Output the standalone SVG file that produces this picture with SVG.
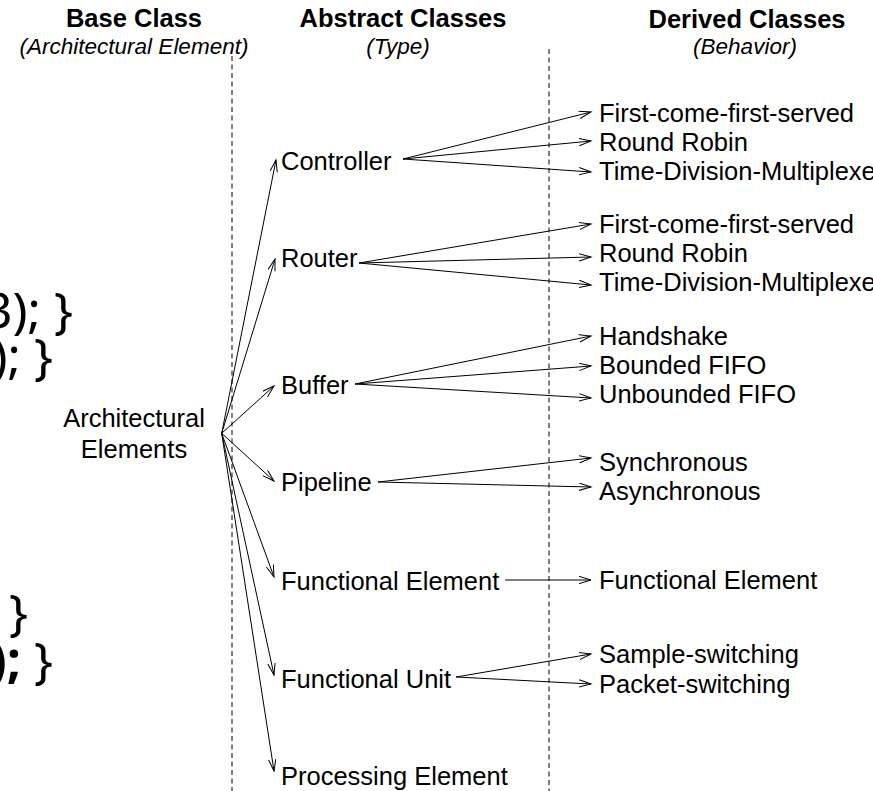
<svg xmlns="http://www.w3.org/2000/svg" width="873" height="791" viewBox="0 0 873 791">
  <style>
    text { font-family: "Liberation Sans", Arial, sans-serif; fill: #000; }
    .hdr { font-size: 25.5px; font-weight: bold; text-anchor: middle; }
    .sub { font-size: 22.5px; font-style: italic; text-anchor: middle; }
    .lbl { font-size: 25.5px; }
    .mid { text-anchor: middle; }
    .code { font-family: "Noto Sans", "Liberation Sans", sans-serif; font-size: 50px; text-anchor: end; }
    .sep { stroke: #000; stroke-width: 1; stroke-dasharray: 5 3.5; fill: none; }
    .edge { stroke: #000; stroke-width: 1; fill: none; marker-end: url(#arrow); }
  </style>
  <defs>
    <marker id="arrow" markerUnits="userSpaceOnUse" markerWidth="14" markerHeight="10" refX="12" refY="4" orient="auto">
      <path d="M0,0.3 L12,4 L0,7.7" fill="none" stroke="#000" stroke-width="1"/>
    </marker>
  </defs>
  <rect width="873" height="791" fill="#fff"/>

  <!-- code fragments running off the left edge -->
  <g id="code-fragments">
    <text class="code" x="73" y="328">3); }</text>
    <text class="code" x="53" y="374">); }</text>
    <text class="code" x="28" y="630">}</text>
    <text class="code" x="53" y="678"><tspan font-weight="bold">);</tspan> }</text>
  </g>

  <!-- column headings -->
  <g id="headings">
    <text class="hdr" x="134" y="27">Base Class</text>
    <text class="sub" x="134" y="54">(Architectural Element)</text>
    <text class="hdr" x="403" y="27">Abstract Classes</text>
    <text class="sub" x="398" y="54">(Type)</text>
    <text class="hdr" x="747" y="28">Derived Classes</text>
    <text class="sub" x="745" y="54">(Behavior)</text>
  </g>

  <!-- column separators -->
  <g id="separators">
    <line class="sep" x1="232" y1="56" x2="232" y2="791"/>
    <line class="sep" x1="549" y1="49" x2="549" y2="791"/>
  </g>

  <!-- base class -->
  <g id="architectural-elements">
    <text class="lbl mid" x="134" y="427">Architectural</text>
    <text class="lbl mid" x="134" y="458">Elements</text>
  </g>

  <!-- abstract classes -->
  <g id="controller"><text class="lbl" x="281" y="170">Controller</text></g>
  <g id="router"><text class="lbl" x="281" y="267">Router</text></g>
  <g id="buffer"><text class="lbl" x="281" y="394">Buffer</text></g>
  <g id="pipeline"><text class="lbl" x="281" y="491">Pipeline</text></g>
  <g id="functional-element"><text class="lbl" x="281" y="590">Functional Element</text></g>
  <g id="functional-unit"><text class="lbl" x="281" y="688">Functional Unit</text></g>
  <g id="processing-element"><text class="lbl" x="281" y="785">Processing Element</text></g>

  <!-- derived classes -->
  <g id="controller-fcfs"><text class="lbl" x="599" y="122">First-come-first-served</text></g>
  <g id="controller-rr"><text class="lbl" x="599" y="151">Round Robin</text></g>
  <g id="controller-tdm"><text class="lbl" x="599" y="180">Time-Division-Multiplexed</text></g>
  <g id="router-fcfs"><text class="lbl" x="599" y="233">First-come-first-served</text></g>
  <g id="router-rr"><text class="lbl" x="599" y="262">Round Robin</text></g>
  <g id="router-tdm"><text class="lbl" x="599" y="291">Time-Division-Multiplexed</text></g>
  <g id="buffer-handshake"><text class="lbl" x="599" y="345">Handshake</text></g>
  <g id="buffer-bounded"><text class="lbl" x="599" y="374">Bounded FIFO</text></g>
  <g id="buffer-unbounded"><text class="lbl" x="599" y="403">Unbounded FIFO</text></g>
  <g id="pipeline-sync"><text class="lbl" x="599" y="471">Synchronous</text></g>
  <g id="pipeline-async"><text class="lbl" x="599" y="500">Asynchronous</text></g>
  <g id="functional-element-impl"><text class="lbl" x="599" y="589">Functional Element</text></g>
  <g id="unit-sample"><text class="lbl" x="599" y="663">Sample-switching</text></g>
  <g id="unit-packet"><text class="lbl" x="599" y="693">Packet-switching</text></g>

  <!-- connectors -->
  <g id="connectors">
    <line class="edge" x1="221.7" y1="433.3" x2="276" y2="160"/>
    <line class="edge" x1="221.7" y1="433.3" x2="275" y2="259"/>
    <line class="edge" x1="221.7" y1="433.3" x2="274" y2="386"/>
    <line class="edge" x1="221.7" y1="433.3" x2="274" y2="481"/>
    <line class="edge" x1="221.7" y1="433.3" x2="274" y2="577"/>
    <line class="edge" x1="221.7" y1="433.3" x2="274" y2="675"/>
    <line class="edge" x1="221.7" y1="433.3" x2="274" y2="771"/>

    <line class="edge" x1="403" y1="159" x2="591" y2="112"/>
    <line class="edge" x1="403" y1="159" x2="591" y2="141"/>
    <line class="edge" x1="403" y1="159" x2="591" y2="172"/>

    <line class="edge" x1="359" y1="263" x2="591" y2="224"/>
    <line class="edge" x1="359" y1="263" x2="591" y2="257"/>
    <line class="edge" x1="359" y1="263" x2="591" y2="285"/>

    <line class="edge" x1="355" y1="384" x2="591" y2="336"/>
    <line class="edge" x1="355" y1="384" x2="591" y2="366"/>
    <line class="edge" x1="355" y1="384" x2="591" y2="398"/>

    <line class="edge" x1="378" y1="482" x2="591" y2="458"/>
    <line class="edge" x1="378" y1="482" x2="591" y2="487"/>

    <line class="edge" x1="505" y1="580" x2="591" y2="580"/>

    <line class="edge" x1="456" y1="677" x2="591" y2="654"/>
    <line class="edge" x1="456" y1="677" x2="591" y2="684"/>
  </g>
</svg>
